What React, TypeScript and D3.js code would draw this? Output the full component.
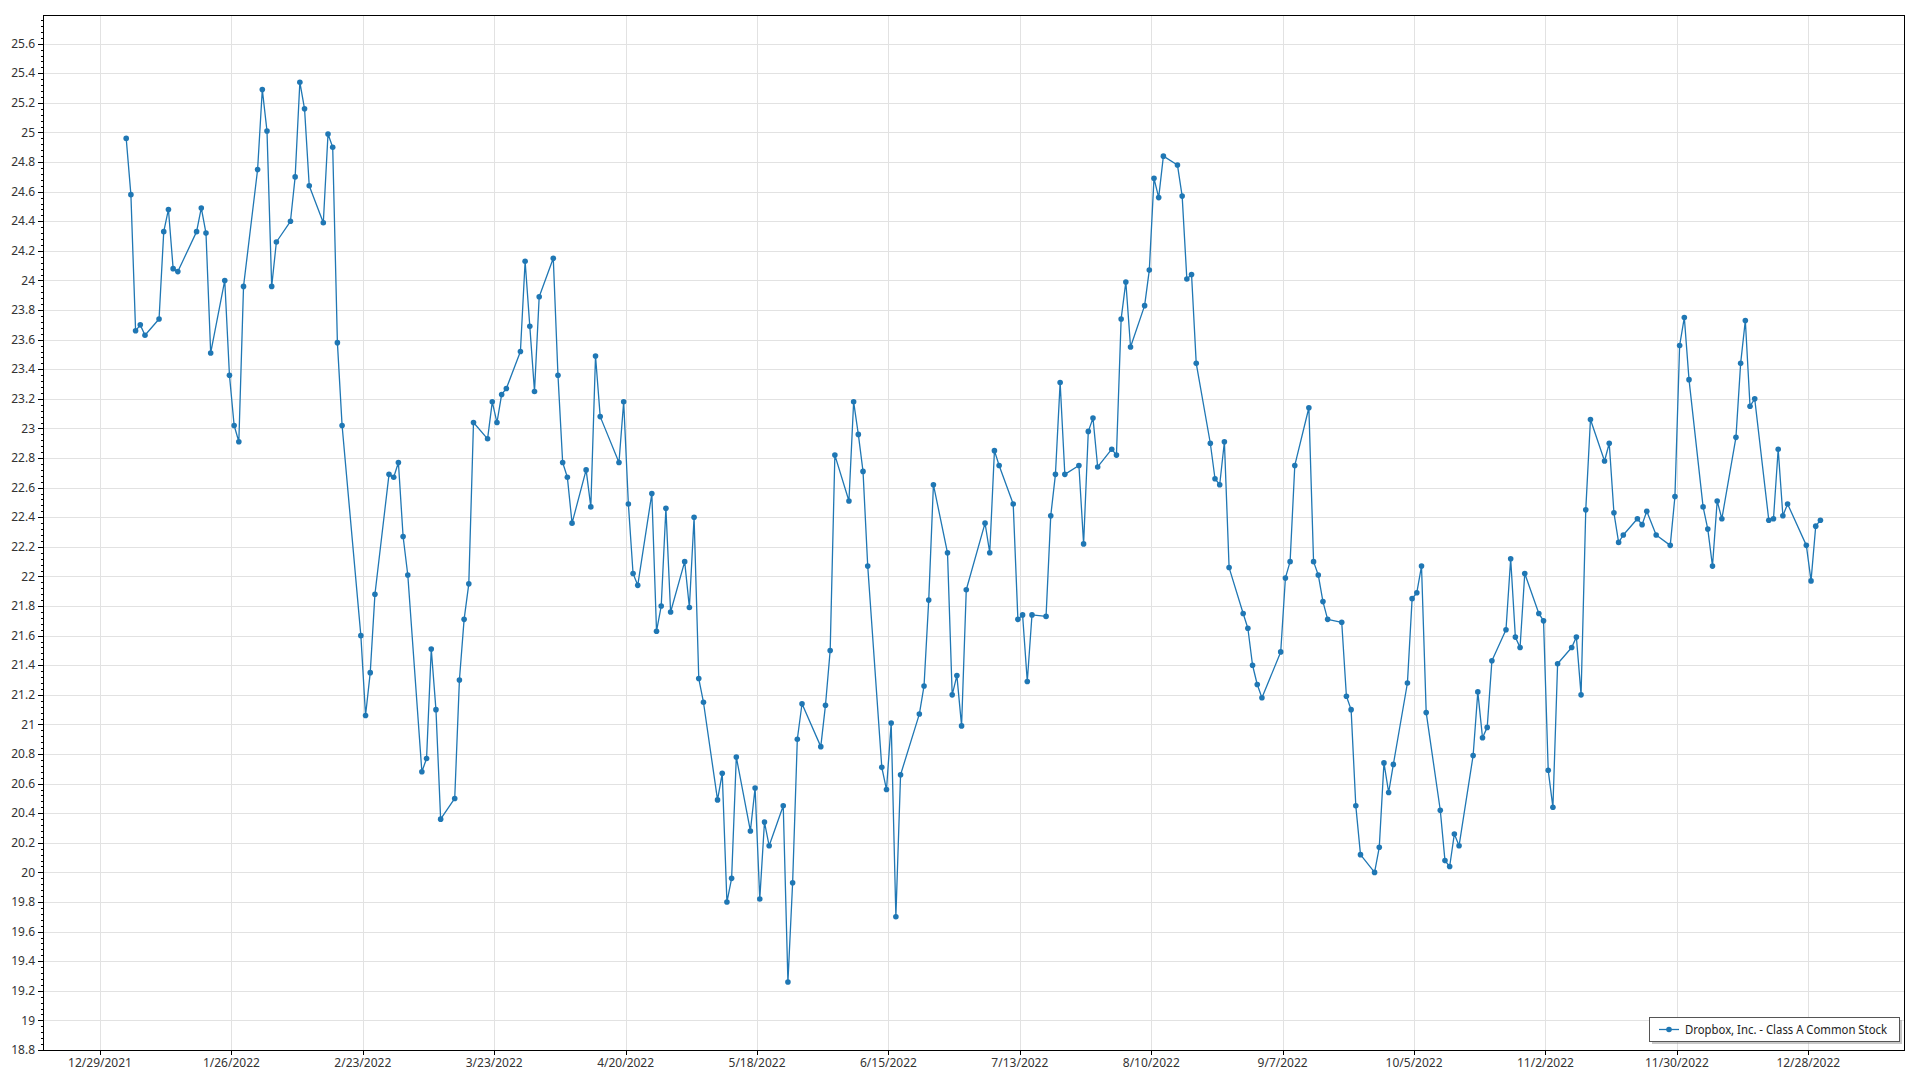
import React from "react";
import * as d3 from "d3";

const seriesName = "Dropbox, Inc. - Class A Common Stock";

const dates: string[] = [
  "2022-01-03","2022-01-04","2022-01-05","2022-01-06","2022-01-07","2022-01-10","2022-01-11","2022-01-12","2022-01-13","2022-01-14",
  "2022-01-18","2022-01-19","2022-01-20","2022-01-21","2022-01-24","2022-01-25","2022-01-26","2022-01-27","2022-01-28","2022-01-31",
  "2022-02-01","2022-02-02","2022-02-03","2022-02-04","2022-02-07","2022-02-08","2022-02-09","2022-02-10","2022-02-11","2022-02-14",
  "2022-02-15","2022-02-16","2022-02-17","2022-02-18","2022-02-22","2022-02-23","2022-02-24","2022-02-25","2022-02-28",
  "2022-03-01","2022-03-02","2022-03-03","2022-03-04","2022-03-07","2022-03-08","2022-03-09","2022-03-10","2022-03-11","2022-03-14",
  "2022-03-15","2022-03-16","2022-03-17","2022-03-18","2022-03-21","2022-03-22","2022-03-23","2022-03-24","2022-03-25","2022-03-28",
  "2022-03-29","2022-03-30","2022-03-31",
  "2022-04-01","2022-04-04","2022-04-05","2022-04-06","2022-04-07","2022-04-08","2022-04-11","2022-04-12","2022-04-13","2022-04-14",
  "2022-04-18","2022-04-19","2022-04-20","2022-04-21","2022-04-22","2022-04-25","2022-04-26","2022-04-27","2022-04-28","2022-04-29",
  "2022-05-02","2022-05-03","2022-05-04","2022-05-05","2022-05-06","2022-05-09","2022-05-10","2022-05-11","2022-05-12","2022-05-13",
  "2022-05-16","2022-05-17","2022-05-18","2022-05-19","2022-05-20","2022-05-23","2022-05-24","2022-05-25","2022-05-26","2022-05-27",
  "2022-05-31",
  "2022-06-01","2022-06-02","2022-06-03","2022-06-06","2022-06-07","2022-06-08","2022-06-09","2022-06-10","2022-06-13","2022-06-14",
  "2022-06-15","2022-06-16","2022-06-17","2022-06-21","2022-06-22","2022-06-23","2022-06-24","2022-06-27","2022-06-28","2022-06-29",
  "2022-06-30",
  "2022-07-01","2022-07-05","2022-07-06","2022-07-07","2022-07-08","2022-07-11","2022-07-12","2022-07-13","2022-07-14","2022-07-15",
  "2022-07-18","2022-07-19","2022-07-20","2022-07-21","2022-07-22","2022-07-25","2022-07-26","2022-07-27","2022-07-28","2022-07-29",
  "2022-08-01","2022-08-02","2022-08-03","2022-08-04","2022-08-05","2022-08-08","2022-08-09","2022-08-10","2022-08-11","2022-08-12",
  "2022-08-15","2022-08-16","2022-08-17","2022-08-18","2022-08-19","2022-08-22","2022-08-23","2022-08-24","2022-08-25","2022-08-26",
  "2022-08-29","2022-08-30","2022-08-31",
  "2022-09-01","2022-09-02","2022-09-06","2022-09-07","2022-09-08","2022-09-09","2022-09-12","2022-09-13","2022-09-14","2022-09-15",
  "2022-09-16","2022-09-19","2022-09-20","2022-09-21","2022-09-22","2022-09-23","2022-09-26","2022-09-27","2022-09-28","2022-09-29",
  "2022-09-30",
  "2022-10-03","2022-10-04","2022-10-05","2022-10-06","2022-10-07","2022-10-10","2022-10-11","2022-10-12","2022-10-13","2022-10-14",
  "2022-10-17","2022-10-18","2022-10-19","2022-10-20","2022-10-21","2022-10-24","2022-10-25","2022-10-26","2022-10-27","2022-10-28",
  "2022-10-31",
  "2022-11-01","2022-11-02","2022-11-03","2022-11-04","2022-11-07","2022-11-08","2022-11-09","2022-11-10","2022-11-11","2022-11-14",
  "2022-11-15","2022-11-16","2022-11-17","2022-11-18","2022-11-21","2022-11-22","2022-11-23","2022-11-25","2022-11-28","2022-11-29",
  "2022-11-30",
  "2022-12-01","2022-12-02","2022-12-05","2022-12-06","2022-12-07","2022-12-08","2022-12-09","2022-12-12","2022-12-13","2022-12-14",
  "2022-12-15","2022-12-16","2022-12-19","2022-12-20","2022-12-21","2022-12-22","2022-12-23","2022-12-27","2022-12-28","2022-12-29",
  "2022-12-30",
];

const closes: number[] = [
  24.96,24.58,23.66,23.70,23.63,23.74,24.33,24.48,24.08,24.06,
  24.33,24.49,24.32,23.51,24.00,23.36,23.02,22.91,23.96,24.75,
  25.29,25.01,23.96,24.26,24.40,24.70,25.34,25.16,24.64,24.39,
  24.99,24.90,23.58,23.02,21.60,21.06,21.35,21.88,22.69,
  22.67,22.77,22.27,22.01,20.68,20.77,21.51,21.10,20.36,20.50,
  21.30,21.71,21.95,23.04,22.93,23.18,23.04,23.23,23.27,23.52,
  24.13,23.69,23.25,
  23.89,24.15,23.36,22.77,22.67,22.36,22.72,22.47,23.49,23.08,
  22.77,23.18,22.49,22.02,21.94,22.56,21.63,21.80,22.46,21.76,
  22.10,21.79,22.40,21.31,21.15,20.49,20.67,19.80,19.96,20.78,
  20.28,20.57,19.82,20.34,20.18,20.45,19.26,19.93,20.90,21.14,
  20.85,
  21.13,21.50,22.82,22.51,23.18,22.96,22.71,22.07,20.71,20.56,
  21.01,19.70,20.66,21.07,21.26,21.84,22.62,22.16,21.20,21.33,
  20.99,
  21.91,22.36,22.16,22.85,22.75,22.49,21.71,21.74,21.29,21.74,
  21.73,22.41,22.69,23.31,22.69,22.75,22.22,22.98,23.07,22.74,
  22.86,22.82,23.74,23.99,23.55,23.83,24.07,24.69,24.56,24.84,
  24.78,24.57,24.01,24.04,23.44,22.90,22.66,22.62,22.91,22.06,
  21.75,21.65,21.40,
  21.27,21.18,21.49,21.99,22.10,22.75,23.14,22.10,22.01,21.83,
  21.71,21.69,21.19,21.10,20.45,20.12,20.00,20.17,20.74,20.54,
  20.73,
  21.28,21.85,21.89,22.07,21.08,20.42,20.08,20.04,20.26,20.18,
  20.79,21.22,20.91,20.98,21.43,21.64,22.12,21.59,21.52,22.02,
  21.75,
  21.70,20.69,20.44,21.41,21.52,21.59,21.20,22.45,23.06,22.78,
  22.90,22.43,22.23,22.28,22.39,22.35,22.44,22.28,22.21,22.54,
  23.56,
  23.75,23.33,22.47,22.32,22.07,22.51,22.39,22.94,23.44,23.73,
  23.15,23.20,22.38,22.39,22.86,22.41,22.49,22.21,21.97,22.34,
  22.38,
];

const xTickDates: string[] = [
  "2021-12-29","2022-01-26","2022-02-23","2022-03-23","2022-04-20","2022-05-18","2022-06-15",
  "2022-07-13","2022-08-10","2022-09-07","2022-10-05","2022-11-02","2022-11-30","2022-12-28",
];
const xTickLabels: string[] = [
  "12/29/2021","1/26/2022","2/23/2022","3/23/2022","4/20/2022","5/18/2022","6/15/2022",
  "7/13/2022","8/10/2022","9/7/2022","10/5/2022","11/2/2022","11/30/2022","12/28/2022",
];
const yTicks: number[] = [
  18.8,19,19.2,19.4,19.6,19.8,20,20.2,20.4,20.6,20.8,21,21.2,21.4,21.6,21.8,22,22.2,22.4,
  22.6,22.8,23,23.2,23.4,23.6,23.8,24,24.2,24.4,24.6,24.8,25,25.2,25.4,25.6,
];

const W = 1920;
const H = 1080;
const left = 43;
const right = 1905;
const top = 15;
const bottom = 1050;
const blue = "#1f77b4";
const font = "'Segoe UI', 'Noto Sans', 'DejaVu Sans', sans-serif";

export default function App() {
  const parse = (s: string, h: number) => new Date(`${s}T${String(h).padStart(2, "0")}:00:00`);
  const x = d3
    .scaleTime()
    .domain([parse("2021-12-29", 0), parse("2022-12-28", 0)])
    .range([100, 1808.3]);
  const y = d3.scaleLinear().domain([18.8, 25.6]).range([bottom, 43.7]);

  const pts = dates.map((d, i) => ({ t: new Date(parse(d, 0).getTime() + 14 * 3600 * 1000), v: closes[i] }));
  const line = d3
    .line<{ t: Date; v: number }>()
    .x((p) => x(p.t))
    .y((p) => y(p.v));

  const minor: number[] = [];
  for (let k = 0; k <= 174; k++) {
    const v = 18.8 + k * 0.04;
    if (y(v) >= top - 0.5) minor.push(v);
  }

  const legX = 1649;
  const legY = 1017;
  const legW = 250;
  const legH = 24;

  return (
    <svg
      width={W}
      height={H}
      style={{ position: "absolute", left: 0, top: 0, background: "#fff" }}
      fontFamily={font}
    >
      <rect x={0} y={0} width={W} height={H} fill="#fff" />
      {/* grid */}
      {yTicks.map((v) => (
        <line key={"gy" + v} x1={left} x2={right} y1={Math.round(y(v)) + 0.5} y2={Math.round(y(v)) + 0.5} stroke="#e2e2e2" strokeWidth={1} />
      ))}
      {xTickDates.map((d) => (
        <line key={"gx" + d} x1={Math.round(x(parse(d, 0))) + 0.5} x2={Math.round(x(parse(d, 0))) + 0.5} y1={top} y2={bottom} stroke="#e2e2e2" strokeWidth={1} />
      ))}

      {/* series */}
      <path d={line(pts) || ""} fill="none" stroke={blue} strokeWidth={1.3} strokeLinejoin="round" />
      {pts.map((p, i) => (
        <circle key={"m" + i} cx={x(p.t)} cy={y(p.v)} r={2.8} fill={blue} />
      ))}

      {/* frame */}
      <rect x={left + 0.5} y={top + 0.5} width={right - left - 1} height={bottom - top} fill="none" stroke="#000" strokeWidth={1} />

      {/* y axis ticks */}
      {minor.map((v, i) => (
        <line key={"mt" + i} x1={left - 2} x2={left} y1={Math.round(y(v)) + 0.5} y2={Math.round(y(v)) + 0.5} stroke="#000" strokeWidth={1} />
      ))}
      {yTicks.map((v) => (
        <g key={"yt" + v}>
          <line x1={left - 5} x2={left} y1={Math.round(y(v)) + 0.5} y2={Math.round(y(v)) + 0.5} stroke="#000" strokeWidth={1} />
          <text x={left - 8} y={y(v)} dy="0.35em" textAnchor="end" fontSize={12} fill="#333">
            {String(Math.round(v * 10) / 10)}
          </text>
        </g>
      ))}

      {/* x axis ticks */}
      {xTickDates.map((d, i) => (
        <g key={"xt" + d}>
          <line x1={Math.round(x(parse(d, 0))) + 0.5} x2={Math.round(x(parse(d, 0))) + 0.5} y1={bottom} y2={bottom + 5} stroke="#000" strokeWidth={1} />
          <text x={x(parse(d, 0))} y={1063} dy="0.35em" textAnchor="middle" fontSize={12} fill="#333">
            {xTickLabels[i]}
          </text>
        </g>
      ))}

      {/* legend */}
      <rect x={legX + 3} y={legY + 3} width={legW} height={legH} fill="#9a9a9a" opacity={0.55} />
      <rect x={legX + 0.5} y={legY + 0.5} width={legW} height={legH} fill="#fff" stroke="#555" strokeWidth={1} />
      <line x1={legX + 10} x2={legX + 30} y1={legY + 12.5} y2={legY + 12.5} stroke={blue} strokeWidth={1.3} />
      <circle cx={legX + 20} cy={legY + 12.5} r={2.8} fill={blue} />
      <text x={legX + 36} y={legY + 12.5} dy="0.35em" fontSize={12.5} fill="#222" textLength={202} lengthAdjust="spacingAndGlyphs">
        {seriesName}
      </text>
    </svg>
  );
}
